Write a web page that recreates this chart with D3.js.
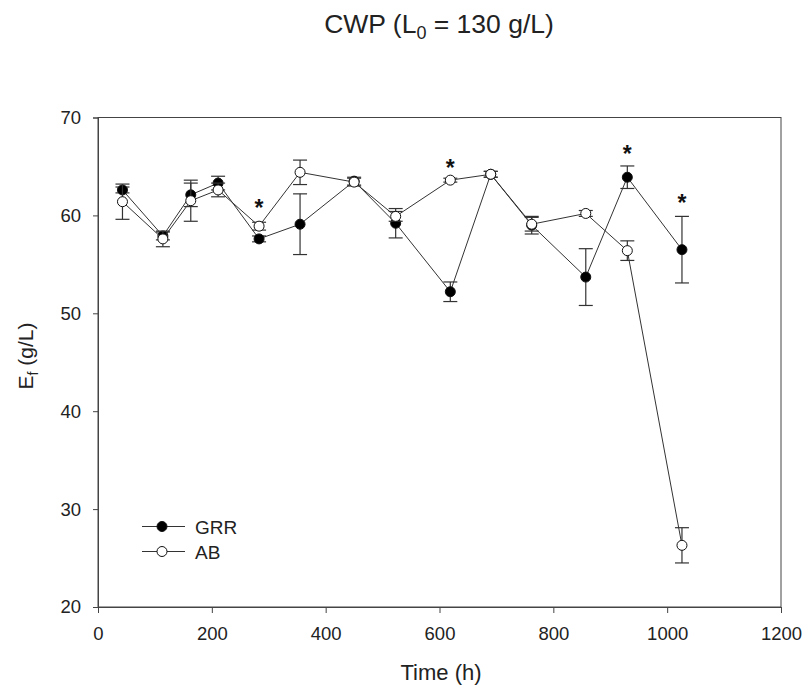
<!DOCTYPE html>
<html>
<head>
<meta charset="utf-8">
<script src="https://cdn.jsdelivr.net/npm/d3@7"></script>
<style>
  html, body { margin: 0; padding: 0; background: #fff; }
  svg { display: block; }
</style>
</head>
<body>
<div id="chart"></div>
<script>
  // --- Data ---
  const times = [43, 114, 163, 211, 283, 355, 450, 523, 619, 690, 762, 857, 930, 1026];
  const grr = [62.6, 57.9, 62.1, 63.3, 57.6, 59.1, 63.5, 59.2, 52.2, 64.2, 59.0, 53.7, 63.9, 56.5];
  const grrErr = [0.3, 0.4, 1.2, 0.7, 0.3, 3.1, 0.4, 1.5, 1.0, 0.3, 0.9, 2.9, 1.15, 3.4];
  const ab = [61.4, 57.6, 61.5, 62.6, 58.9, 64.4, 63.4, 59.9, 63.6, 64.2, 59.1, 60.2, 56.4, 26.3];
  const abErr = [1.8, 0.8, 2.1, 0.7, 0.4, 1.25, 0.4, 0.5, 0.2, 0.3, 0.7, 0.3, 1.0, 1.8];
  const starTimes = [283, 619, 930, 1026];
  const starValues = [61.3, 65.4, 66.8, 61.8];
  const xTicks = [0, 200, 400, 600, 800, 1000, 1200];
  const yTicks = [20, 30, 40, 50, 60, 70];

  const FONT = 'Arial, "Liberation Sans", sans-serif';
  const INK = '#222';
  const AXIS = '#444';

  const W = 806, H = 689;
  const margin = { top: 117.5, right: 25, bottom: 82, left: 98 };
  const innerW = W - margin.left - margin.right;
  const innerH = H - margin.top - margin.bottom;

  const svg = d3.select('#chart').append('svg')
    .attr('width', W).attr('height', H);

  const g = svg.append('g')
    .attr('transform', `translate(${margin.left},${margin.top})`);

  const x = d3.scaleLinear().domain([0, 1200]).range([0, innerW]);
  const y = d3.scaleLinear().domain([20, 70]).range([innerH, 0]);

  // Frame (top & right)
  g.append('rect')
    .attr('x', 0).attr('y', 0)
    .attr('width', innerW).attr('height', innerH)
    .attr('fill', 'none')
    .attr('stroke', AXIS)
    .attr('stroke-width', 1);

  // Axes
  const xAxis = g.append('g')
    .attr('transform', `translate(0,${innerH})`)
    .call(d3.axisBottom(x).tickValues(xTicks).tickSize(6).tickPadding(14).tickFormat(d3.format('d')));
  const yAxis = g.append('g')
    .call(d3.axisLeft(y).tickValues(yTicks).tickSize(5).tickPadding(12).tickFormat(d3.format('d')));

  [xAxis, yAxis].forEach(ax => {
    ax.select('.domain').attr('stroke', AXIS);
    ax.selectAll('.tick line').attr('stroke', AXIS);
    ax.selectAll('text')
      .attr('fill', INK)
      .attr('font-size', '18.5px')
      .attr('font-family', FONT);
  });

  // Series
  const series = [
    { name: 'GRR', values: grr, err: grrErr, fill: '#000' },
    { name: 'AB', values: ab, err: abErr, fill: '#fff' }
  ];

  const line = d3.line()
    .x(d => x(d[0]))
    .y(d => y(d[1]));

  series.forEach(s => {
    const pts = times.map((t, i) => [t, s.values[i], s.err[i]]);

    g.append('path')
      .datum(pts)
      .attr('fill', 'none')
      .attr('stroke', '#333')
      .attr('stroke-width', 1)
      .attr('d', line);

    // Error bars
    const eb = g.append('g').selectAll('g')
      .data(pts).enter().append('g')
      .attr('stroke', '#333')
      .attr('stroke-width', 1.2);
    eb.append('line')
      .attr('x1', d => x(d[0])).attr('x2', d => x(d[0]))
      .attr('y1', d => y(d[1] - d[2])).attr('y2', d => y(d[1] + d[2]));
    eb.append('line')
      .attr('x1', d => x(d[0]) - 7).attr('x2', d => x(d[0]) + 7)
      .attr('y1', d => y(d[1] + d[2])).attr('y2', d => y(d[1] + d[2]));
    eb.append('line')
      .attr('x1', d => x(d[0]) - 7).attr('x2', d => x(d[0]) + 7)
      .attr('y1', d => y(d[1] - d[2])).attr('y2', d => y(d[1] - d[2]));

    g.append('g').selectAll('circle')
      .data(pts).enter().append('circle')
      .attr('cx', d => x(d[0])).attr('cy', d => y(d[1]))
      .attr('r', 5)
      .attr('fill', s.fill)
      .attr('stroke', '#111')
      .attr('stroke-width', 1);
  });

  // Significance stars
  g.append('g').selectAll('text')
    .data(starTimes.map((t, i) => [t, starValues[i]]))
    .enter().append('text')
    .attr('x', d => x(d[0]))
    .attr('y', d => y(d[1]) + 13)
    .attr('text-anchor', 'middle')
    .attr('font-size', '23px')
    .attr('font-weight', '700')
    .attr('font-family', FONT)
    .attr('fill', '#111')
    .text('*');

  // Legend
  const legend = g.append('g').attr('transform', 'translate(44,409)');
  series.forEach((s, i) => {
    const row = legend.append('g').attr('transform', `translate(0,${i * 25})`);
    row.append('line')
      .attr('x1', 0).attr('x2', 43)
      .attr('y1', 0).attr('y2', 0)
      .attr('stroke', '#333').attr('stroke-width', 1);
    row.append('circle')
      .attr('cx', 20).attr('cy', 0).attr('r', 5)
      .attr('fill', s.fill).attr('stroke', '#111');
    row.append('text')
      .attr('x', 53).attr('y', 7)
      .attr('font-size', '19px')
      .attr('font-family', FONT)
      .attr('fill', INK)
      .text(s.name);
  });

  // Title
  const title = svg.append('text')
    .attr('x', 439).attr('y', 33)
    .attr('text-anchor', 'middle')
    .attr('font-size', '26.5px')
    .attr('font-family', FONT)
    .attr('fill', INK);
  title.append('tspan').text('CWP (L');
  title.append('tspan').attr('font-size', '18px').attr('dy', 6).text('0');
  title.append('tspan').attr('dy', -6).text(' = 130 g/L)');

  // Axis titles
  svg.append('text')
    .attr('x', 441).attr('y', 680)
    .attr('text-anchor', 'middle')
    .attr('font-size', '22px')
    .attr('font-family', FONT)
    .attr('fill', INK)
    .text('Time (h)');

  const yl = svg.append('text')
    .attr('transform', 'translate(33,356) rotate(-90)')
    .attr('text-anchor', 'middle')
    .attr('font-size', '21px')
    .attr('font-family', FONT)
    .attr('fill', INK);
  yl.append('tspan').text('E');
  yl.append('tspan').attr('font-size', '14px').attr('dy', 5).text('f');
  yl.append('tspan').attr('dy', -5).text(' (g/L)');
</script>
</body>
</html>
